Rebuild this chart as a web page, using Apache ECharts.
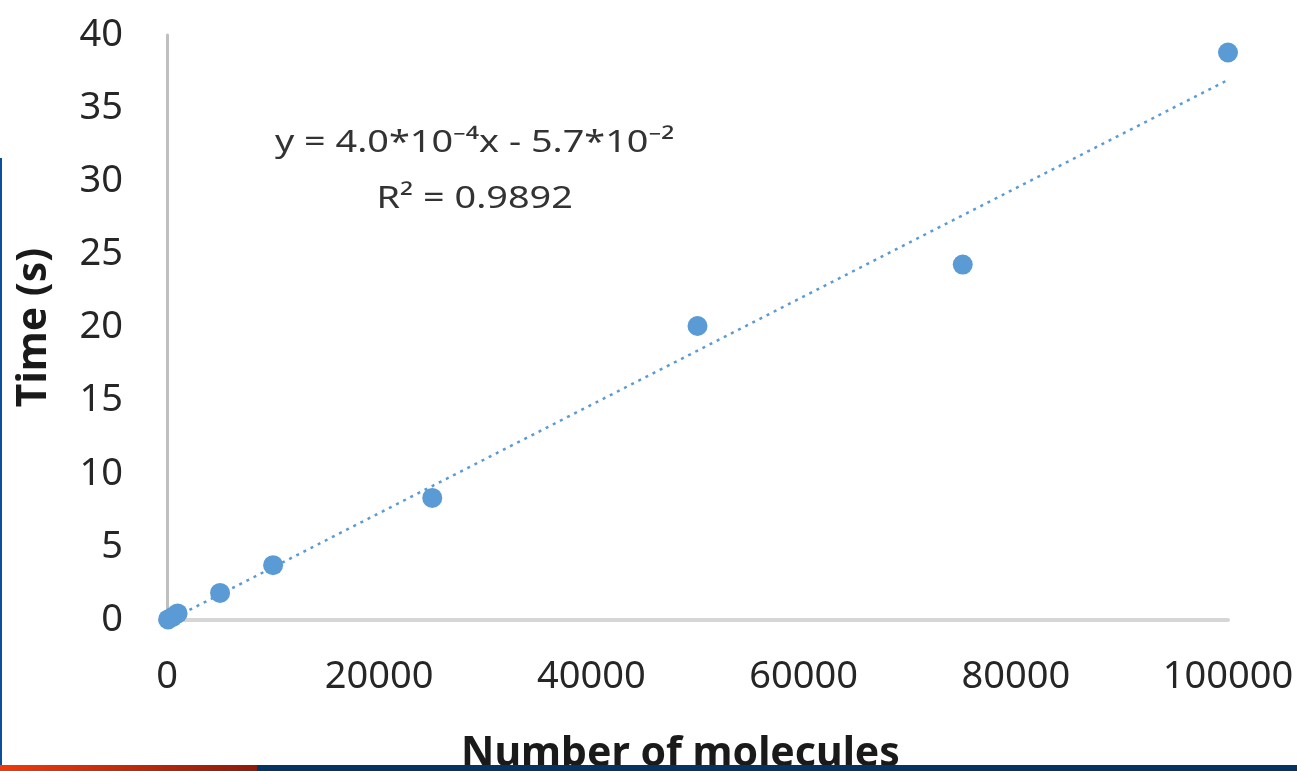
<!DOCTYPE html>
<html><head><meta charset="utf-8">
<script src="https://cdn.jsdelivr.net/npm/echarts@6/dist/echarts.min.js"></script>
<style>html,body{margin:0;padding:0;background:#fff}#c{width:1297px;height:771px}</style>
</head><body><div id="c"></div>
<script>
// Data
const molecules = [100, 500, 1000, 5000, 10000, 25000, 50000, 75000, 100000];
const timeSec   = [0.04, 0.2, 0.45, 1.85, 3.75, 8.35, 20.1, 24.3, 38.8];
const xAxisName = 'Number of molecules';
const yAxisName = 'Time (s)';
const equationText = 'y = 4.0*10\u207B\u2074x - 5.7*10\u207B\u00B2';
const r2Text = 'R\u00B2 = 0.9892';

// least-squares trend line derived from the data
const n = molecules.length;
const mx = molecules.reduce((a,b)=>a+b,0)/n;
const my = timeSec.reduce((a,b)=>a+b,0)/n;
let sxy=0, sxx=0;
for (let i=0;i<n;i++){ sxy += (molecules[i]-mx)*(timeSec[i]-my); sxx += (molecules[i]-mx)**2; }
const slope = sxy/sxx, intercept = my - slope*mx;
const xMinD = Math.min(...molecules), xMaxD = Math.max(...molecules);
const trend = [[xMinD, slope*xMinD+intercept],[xMaxD, slope*xMaxD+intercept]];

const FONT = 'Noto Sans';
const chart = echarts.init(document.getElementById('c'), null, {renderer:'canvas'});
chart.setOption({
  backgroundColor:'#ffffff',
  animation:false,
  grid:{left:167, right:69, top:35, bottom:151, containLabel:false, outerBoundsMode:'none'},
  xAxis:{type:'value', min:0, max:100000, interval:20000,
    name:xAxisName, nameLocation:'middle', nameGap:114,
    nameTextStyle:{fontFamily:FONT, fontSize:41, fontWeight:'bold', color:'#1a1a1a', padding:[0,34,0,0]},
    axisLine:{show:true, onZero:false, lineStyle:{color:'#d6d6d6', width:4}},
    axisTick:{show:false}, splitLine:{show:false},
    axisLabel:{fontFamily:FONT, fontSize:38, color:'#262626', margin:38, formatter:(v)=>String(v)}},
  yAxis:{type:'value', min:0, max:40, interval:5,
    name:yAxisName, nameLocation:'middle', nameGap:112,
    nameTextStyle:{fontFamily:FONT, fontSize:41, fontWeight:'bold', color:'#1a1a1a'},
    axisLine:{show:true, onZero:false, lineStyle:{color:'#bfbfbf', width:3}},
    axisTick:{show:false}, splitLine:{show:false},
    axisLabel:{fontFamily:FONT, fontSize:38, color:'#262626', margin:44}},
  series:[
    {type:'line', data:trend, symbol:'none', silent:true, z:1,
     lineStyle:{color:'#5b9bd5', width:2.5, type:[3,5]}},
    {type:'scatter', data:molecules.map((x,i)=>[x,timeSec[i]]), symbolSize:20, z:2,
     itemStyle:{color:'#5b9bd5', opacity:1}}
  ]
});
const p1 = chart.convertToPixel({gridIndex:0}, [29000, 32.6]);
const p2 = chart.convertToPixel({gridIndex:0}, [29000, 28.8]);
chart.setOption({graphic:[
  {type:'text', x:p1[0], y:p1[1], scaleX:1.22, style:{text:equationText, font:'31px "Noto Sans"', fill:'#333333', align:'center', verticalAlign:'middle'}},
  {type:'text', x:p2[0], y:p2[1], scaleX:1.22, style:{text:r2Text, font:'31px "Noto Sans"', fill:'#333333', align:'center', verticalAlign:'middle'}},
  {type:'rect', left:0, top:158, z:100, shape:{width:2, height:613}, style:{fill:'#0b4f9c'}, silent:true},
  {type:'rect', left:0, top:765, z:100, shape:{width:257, height:6},
   style:{fill:new echarts.graphic.LinearGradient(0,0,1,0,[{offset:0,color:'#ee3a0c'},{offset:1,color:'#8a1c0c'}])}, silent:true},
  {type:'rect', left:257, top:765, z:100, shape:{width:1040, height:6}, style:{fill:'#053363'}, silent:true}
]});
</script></body></html>
